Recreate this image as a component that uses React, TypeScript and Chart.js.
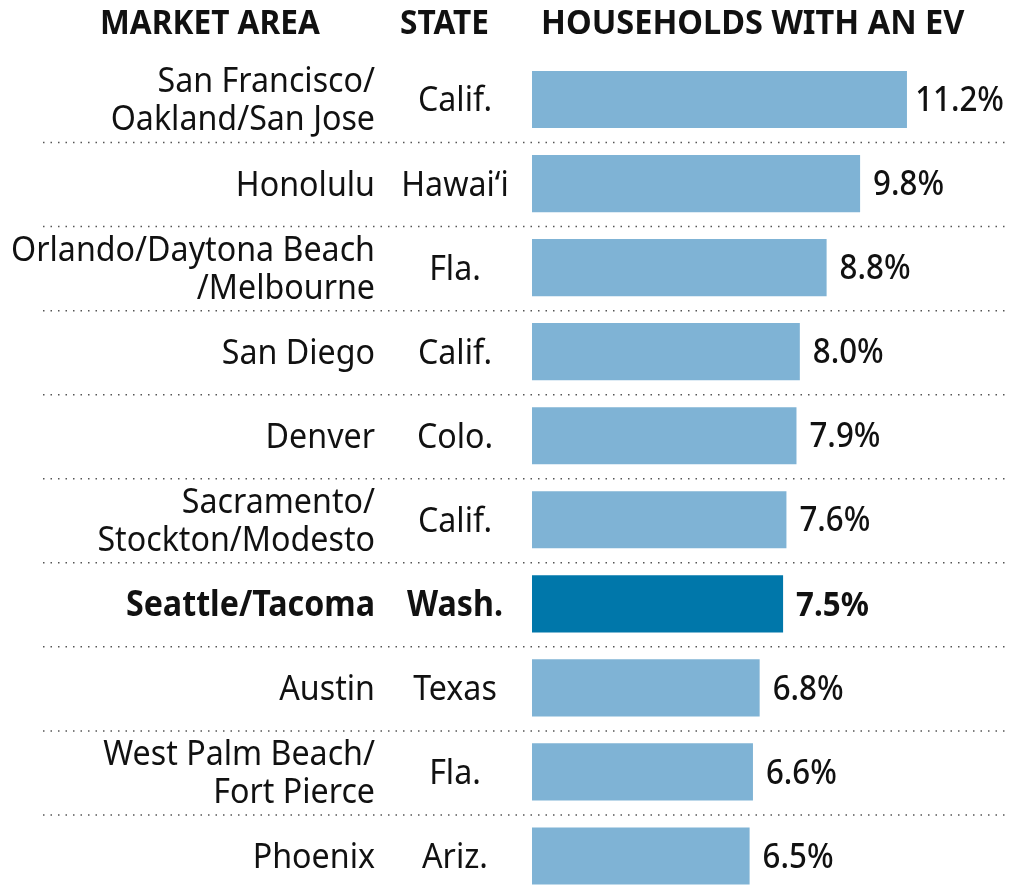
import React, { useEffect, useRef } from "react";
import { Chart, registerables } from "chart.js";

Chart.register(...registerables);

const marketAreas: string[][] = [
  ["San Francisco/", "Oakland/San Jose"],
  ["Honolulu"],
  ["Orlando/Daytona Beach", "/Melbourne"],
  ["San Diego"],
  ["Denver"],
  ["Sacramento/", "Stockton/Modesto"],
  ["Seattle/Tacoma"],
  ["Austin"],
  ["West Palm Beach/", "Fort Pierce"],
  ["Phoenix"],
];
const states = ["Calif.", "Hawai\u2018i", "Fla.", "Calif.", "Colo.", "Calif.", "Wash.", "Texas", "Fla.", "Ariz."];
const evShare = [11.2, 9.8, 8.8, 8.0, 7.9, 7.6, 7.5, 6.8, 6.6, 6.5];
const highlightIndex = 6;
const headers = ["MARKET AREA", "STATE", "HOUSEHOLDS WITH AN EV"];

const FONT = "'Noto Sans', sans-serif";
const LIGHT = "#7fb3d5";
const DARK = "#0077aa";

function drawText(
  ctx: CanvasRenderingContext2D,
  text: string,
  x: number,
  y: number,
  align: CanvasTextAlign,
  sx: number
) {
  ctx.save();
  ctx.translate(x, y);
  ctx.scale(sx, 1);
  ctx.textAlign = align;
  ctx.fillText(text, 0, 0);
  ctx.restore();
}

export default function App() {
  const ref = useRef<HTMLCanvasElement>(null);
  useEffect(() => {
    const canvas = ref.current!;
    const labelsPlugin = {
      id: "labels",
      afterDatasetsDraw(chart: any) {
        const ctx = chart.ctx as CanvasRenderingContext2D;
        const y = chart.scales.y;
        const x = chart.scales.x;
        ctx.save();
        // headers
        ctx.fillStyle = "#111";
        ctx.font = `bold 34px ${FONT}`;
        ctx.textBaseline = "alphabetic";
        drawText(ctx, headers[0], 100, 34, "left", 0.93);
        drawText(ctx, headers[1], 400, 34, "left", 0.93);
        drawText(ctx, headers[2], 541, 34, "left", 0.957);
        // separators
        ctx.strokeStyle = "#555";
        ctx.lineWidth = 1.5;
        ctx.setLineDash([1.5, 6]);
        for (let i = 0; i < marketAreas.length - 1; i++) {
          const yy = (y.getPixelForValue(i) + y.getPixelForValue(i + 1)) / 2 + 1;
          ctx.beginPath();
          ctx.moveTo(43, yy);
          ctx.lineTo(1006, yy);
          ctx.stroke();
        }
        ctx.setLineDash([]);
        ctx.textBaseline = "middle";
        const sx = 0.92;
        for (let i = 0; i < marketAreas.length; i++) {
          const cy = y.getPixelForValue(i);
          const hi = i === highlightIndex;
          ctx.fillStyle = "#111";
          ctx.font = `${hi ? "bold " : ""}35px ${FONT}`;
          const lines = marketAreas[i];
          const lh = 38;
          lines.forEach((ln, k) => {
            const ly = cy + (k - (lines.length - 1) / 2) * lh + 2;
            drawText(ctx, ln, 375, ly, "right", sx);
          });
          drawText(ctx, states[i], 455, cy + 2, "center", sx);
          ctx.font = `${hi ? "bold" : "500"} 34px ${FONT}`;
          const xe = x.getPixelForValue(evShare[i]);
          const label = evShare[i].toFixed(1) + "%";
          const w = ctx.measureText(label).width * sx;
          const lx = Math.min(xe + 13, 1004 - w);
          drawText(ctx, label, lx, cy + 2, "left", sx);
        }
        ctx.restore();
      },
    };
    const chart = new Chart(canvas, {
      type: "bar",
      data: {
        labels: marketAreas.map((m) => m.join(" ")),
        datasets: [
          {
            data: evShare,
            backgroundColor: evShare.map((_, i) => (i === highlightIndex ? DARK : LIGHT)),
            barPercentage: 0.68,
            categoryPercentage: 1,
            borderWidth: 0,
          },
        ],
      },
      options: {
        indexAxis: "y",
        animation: false,
        responsive: false,
        maintainAspectRatio: false,
        layout: { padding: { left: 532, right: 19.3, top: 57.5, bottom: 2 } },
        plugins: { legend: { display: false }, tooltip: { enabled: false } },
        scales: {
          x: { display: false, min: 0, max: 14 },
          y: { display: false, offset: true },
        },
      },
      plugins: [labelsPlugin],
    });
    return () => chart.destroy();
  }, []);
  return (
    <div style={{ position: "fixed", left: 0, top: 0, width: 1020, height: 896, overflow: "hidden", background: "#fff" }}>
      <canvas ref={ref} width={1020} height={900} style={{ width: 1020, height: 900, display: "block" }} />
    </div>
  );
}
